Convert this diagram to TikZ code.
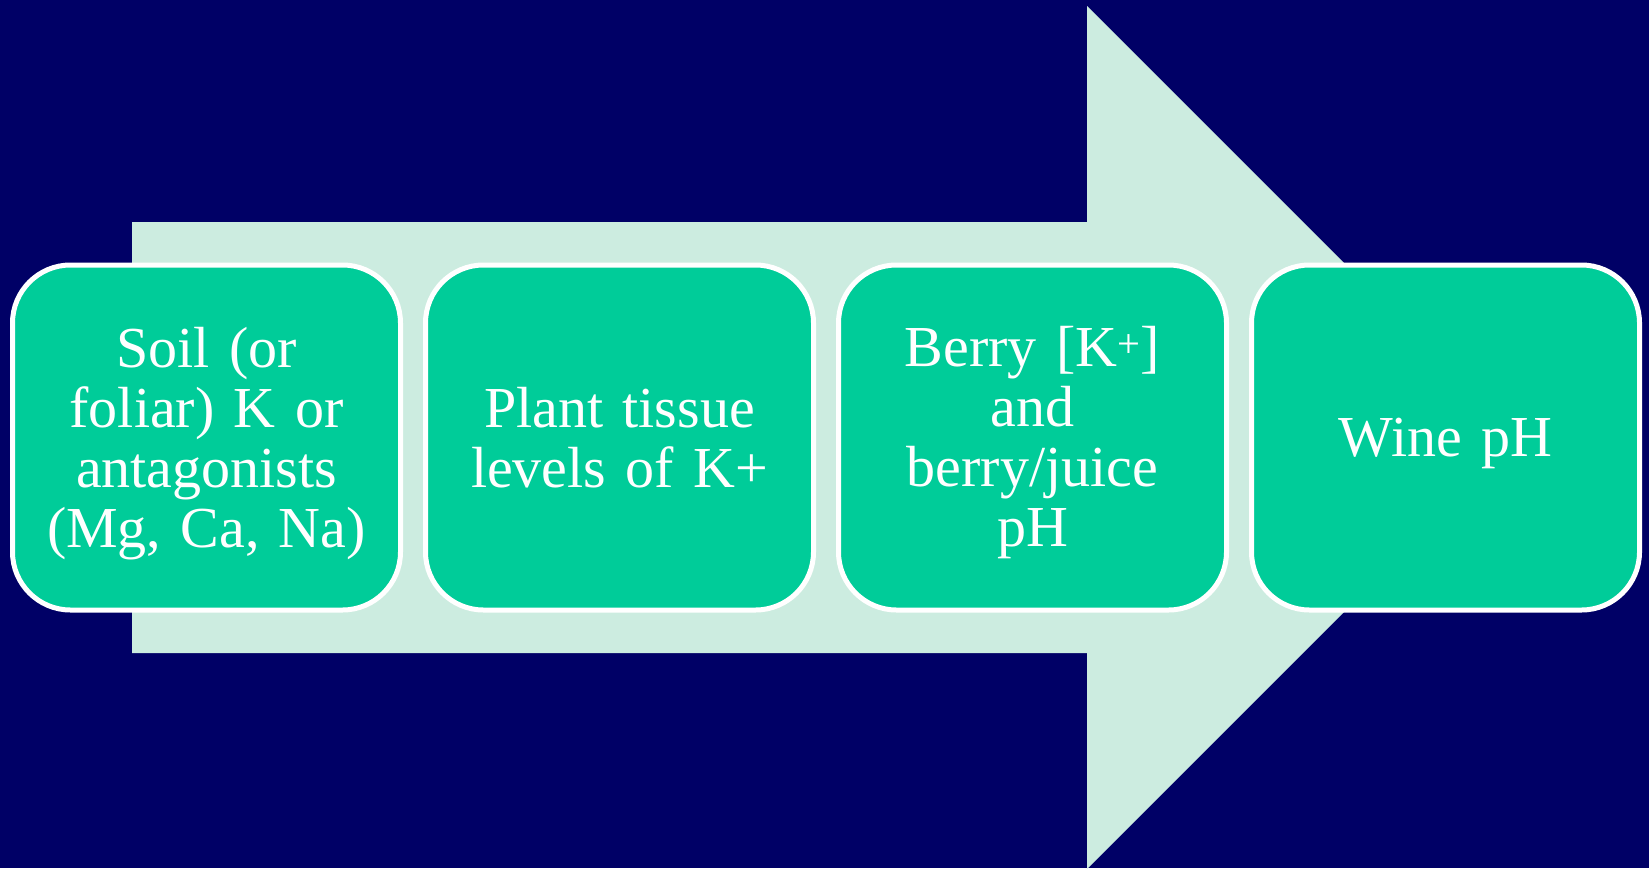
\documentclass[tikz,border=0pt]{standalone}
\usepackage{fontspec}
\setmainfont{Liberation Serif}
\usetikzlibrary{positioning}
\definecolor{navy}{HTML}{000066}
\definecolor{mint}{HTML}{CCECE0}
\definecolor{boxgreen}{HTML}{00CC99}

\begin{document}
\begin{tikzpicture}[x=1pt,y=-1pt,
    stepbox/.style={draw=white,line width=5pt,fill=boxgreen,rounded corners=58pt,
      minimum width=388pt,minimum height=345pt,text width=360pt,align=center,
      text=white,font=\fontsize{58}{60}\selectfont},
    node distance=20pt]
  % Constants
  \pgfmathsetmacro\sl{132}
  \pgfmathsetmacro\st{222}
  \pgfmathsetmacro\sb{653}
  \pgfmathsetmacro\hx{1087}
  \pgfmathsetmacro\hh{431.5}
  \pgfmathsetmacro\cy{437.5}
  % Boundary
  \fill[navy] (0,0) rectangle (1649,868);
  \useasboundingbox (0,0) rectangle (1649,868);
  % Arrow
  \fill[mint] (\sl,\st) -- (\hx,\st) -- (\hx,\cy-\hh) -- (\hx+\hh,\cy)
    -- (\hx,\cy+\hh) -- (\hx,\sb) -- (\sl,\sb) -- cycle;
  % Steps (text depth nudges the text down a little)
  \node[stepbox,text depth=180pt] (soil) at (206.5,\cy) {Soil (or\\foliar) K or\\antagonists\\(Mg, Ca, Na)};
  \node[stepbox,right=of soil] (tissue) {Plant tissue\\levels of K+};
  \node[stepbox,right=of tissue,text depth=182pt] (berry) {Berry [K\textsuperscript{+}]\\and\\berry/juice\\pH};
  \node[stepbox,right=of berry,text depth=1pt] (wine) {Wine pH};
\end{tikzpicture}
\end{document}
